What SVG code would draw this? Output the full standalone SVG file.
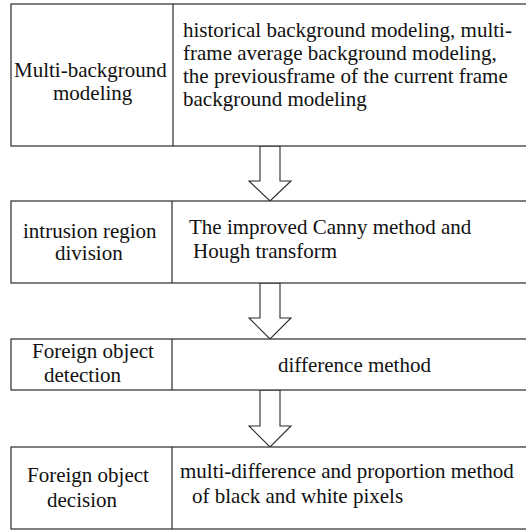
<svg xmlns="http://www.w3.org/2000/svg" width="526" height="530" viewBox="0 0 526 530">
<style>
.box{fill:#fff;stroke:#2a2a2a;stroke-width:1.2}
.div{stroke:#2a2a2a;stroke-width:1.2}
.arrow{fill:#fff;stroke:#2a2a2a;stroke-width:1.1;stroke-linejoin:miter}
text{font-family:"Liberation Serif","Times New Roman","DejaVu Serif",serif;font-size:21px;fill:#111}
</style>
<rect width="526" height="530" fill="#fff"/>
<g id="connectors">
<polygon class="arrow" points="260,146 260,181 249,181 270,201 291,181 280,181 280,146"/>
<polygon class="arrow" points="260,283 260,318 249,318 270,339 291,318 280,318 280,283"/>
<polygon class="arrow" points="260,390 260,426 249,426 270,447 291,426 280,426 280,390"/>
</g>
<g id="node1">
<rect class="box" x="11" y="4" width="530" height="142"/>
<line class="div" x1="173" y1="4" x2="173" y2="146"/>
<text x="14" y="77">Multi-background</text>
<text x="53" y="100">modeling</text>
<text x="183" y="37">historical background modeling, multi-</text>
<text x="183" y="60">frame average background modeling,</text>
<text x="183" y="83">the previousframe of the current frame</text>
<text x="183" y="106">background modeling</text>
</g>
<g id="node2">
<rect class="box" x="11" y="201" width="530" height="82"/>
<line class="div" x1="172" y1="201" x2="172" y2="283"/>
<text x="23" y="238">intrusion region</text>
<text x="55" y="260">division</text>
<text x="189" y="234">The improved Canny method and</text>
<text x="193" y="258">Hough transform</text>
</g>
<g id="node3">
<rect class="box" x="11" y="339" width="530" height="51"/>
<line class="div" x1="172" y1="339" x2="172" y2="390"/>
<text x="32" y="358">Foreign object</text>
<text x="44" y="382">detection</text>
<text x="278" y="372">difference method</text>
</g>
<g id="node4">
<rect class="box" x="11" y="447" width="530" height="82"/>
<line class="div" x1="172" y1="447" x2="172" y2="529"/>
<text x="27" y="482">Foreign object</text>
<text x="47" y="507">decision</text>
<text x="180" y="478">multi-difference and proportion method</text>
<text x="192" y="503">of black and white pixels</text>
</g>
</svg>
